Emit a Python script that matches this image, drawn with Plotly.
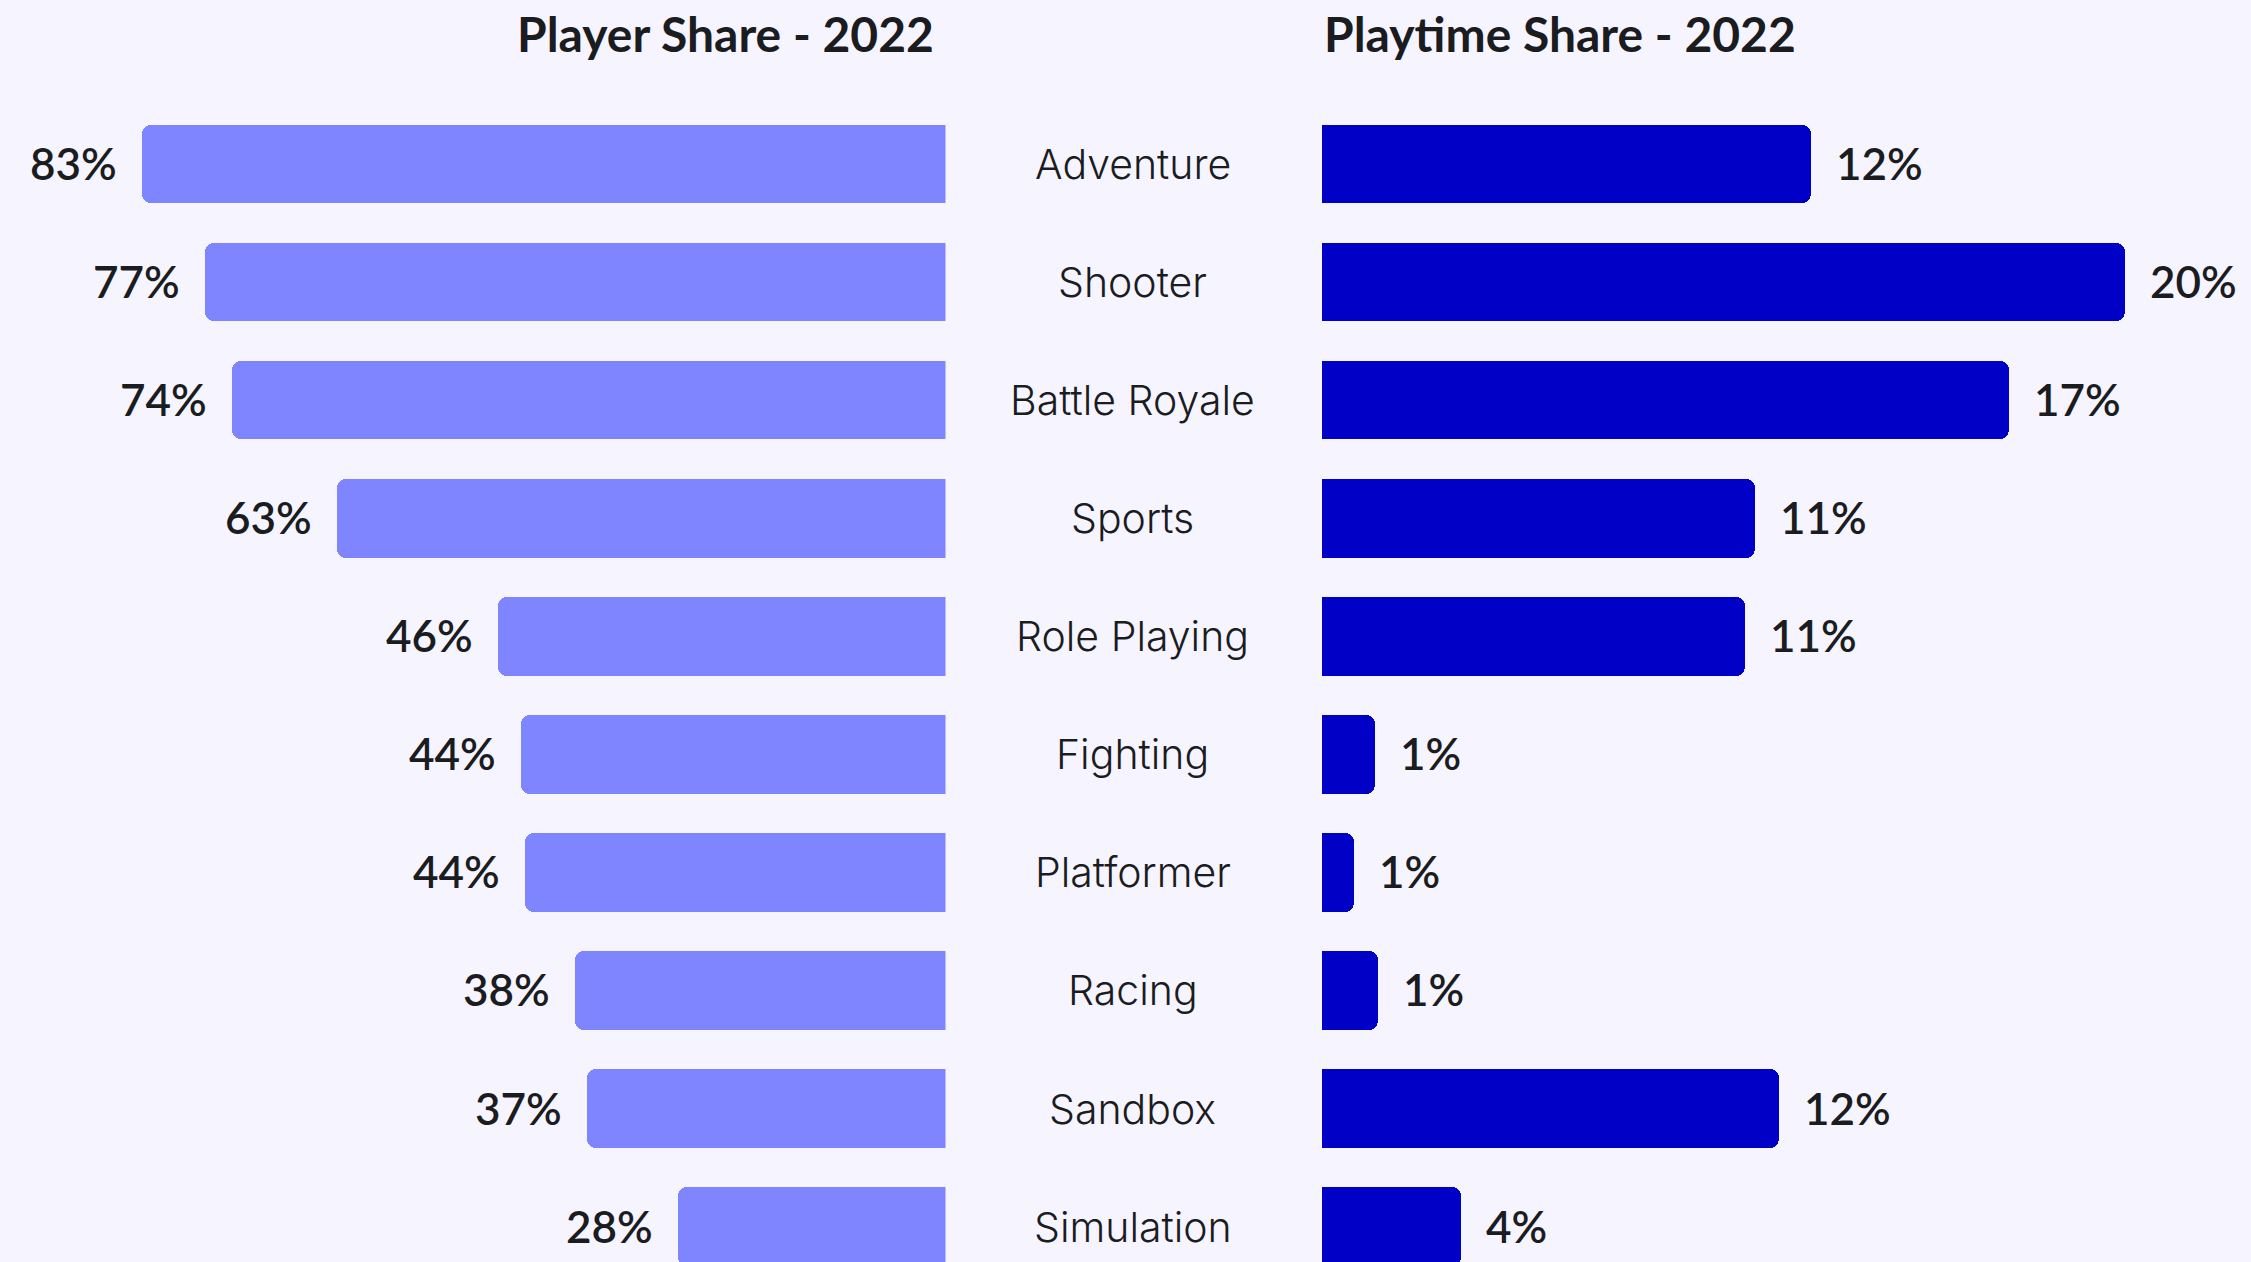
import plotly.graph_objects as go

# Genre breakdown, 2022
genres = ["Adventure", "Shooter", "Battle Royale", "Sports", "Role Playing",
          "Fighting", "Platformer", "Racing", "Sandbox", "Simulation"]
player_share = [83.3, 76.7, 73.9, 63.1, 46.4, 44.0, 43.6, 38.4, 37.2, 27.7]
playtime_share = [12.39, 20.34, 17.38, 10.96, 10.72, 1.35, 0.81, 1.41, 11.56, 3.53]

left_title = "Player Share - 2022"
right_title = "Playtime Share - 2022"

BG = "#F6F5FF"
LIGHT = "#7F85FF"
DARK = "#0000C6"
INK = "#1B1C1F"
FONT = "Lato"

W, H = 2251, 1262
left_end = 945.5 / W          # right edge of the left panel (paper fraction)
right_start = 1322.0 / W      # left edge of the right panel

fig = go.Figure()

fig.add_trace(go.Bar(
    x=player_share, y=genres, orientation="h",
    xaxis="x", yaxis="y",
    marker=dict(color=LIGHT, cornerradius=9, line=dict(width=0)),
    width=0.666, hoverinfo="skip", showlegend=False,
))
fig.add_trace(go.Bar(
    x=playtime_share, y=genres, orientation="h",
    xaxis="x2", yaxis="y",
    marker=dict(color=DARK, cornerradius=9, line=dict(width=0)),
    width=0.666, hoverinfo="skip", showlegend=False,
))

annotations = []
val_font = dict(family=FONT, size=44, color=INK, weight=600)
for g, v in zip(genres, player_share):
    annotations.append(dict(
        x=v, y=g, xref="x", yref="y", text=f"{v:.0f}%",
        xanchor="right", yanchor="middle", xshift=-23, yshift=1,
        showarrow=False, font=val_font,
    ))
for g, v in zip(genres, playtime_share):
    annotations.append(dict(
        x=v, y=g, xref="x2", yref="y", text=f"{v:.0f}%",
        xanchor="left", yanchor="middle", xshift=23, yshift=1,
        showarrow=False, font=val_font,
    ))
# genre names in the gutter between the two panels
for g in genres:
    annotations.append(dict(
        x=1132.5 / W, y=g, xref="paper", yref="y", text=g,
        xanchor="center", yanchor="middle",
        showarrow=False,
        font=dict(family="Inter, Lato, sans-serif", size=41, color=INK, weight=300),
    ))
title_font = dict(family=FONT, size=48, color=INK, weight=700)
annotations.append(dict(
    x=936 / W, y=1 - 33 / H, xref="paper", yref="paper", text=left_title,
    xanchor="right", yanchor="middle", showarrow=False, font=title_font,
))
annotations.append(dict(
    x=right_start, y=1 - 33 / H, xref="paper", yref="paper", text=right_title,
    xanchor="left", yanchor="middle", showarrow=False, font=title_font,
))

fig.update_layout(
    width=W, height=H,
    margin=dict(l=0, r=0, t=0, b=0, pad=0),
    paper_bgcolor=BG, plot_bgcolor=BG,
    bargap=0,
    xaxis=dict(domain=[0, left_end], range=[945.5 / 9.65, 0],
               visible=False, fixedrange=True),
    xaxis2=dict(domain=[right_start, 1], range=[0, (W - 1322.0) / 39.5],
                visible=False, fixedrange=True),
    yaxis=dict(type="category", categoryorder="array", categoryarray=genres,
               range=[9.30, -1.389], visible=False, fixedrange=True),
    annotations=annotations,
)

fig.write_html("out.html", config={"displayModeBar": False})
